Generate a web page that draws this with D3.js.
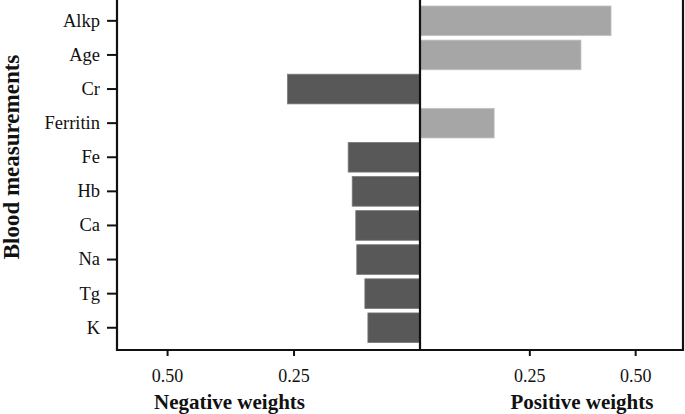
<!DOCTYPE html>
<html>
<head>
<meta charset="utf-8">
<script src="https://cdn.jsdelivr.net/npm/d3@7/dist/d3.min.js"></script>
<style>
  html, body { margin: 0; padding: 0; background: #fff; }
  svg { display: block; }
  text { font-family: "Liberation Serif", "Times New Roman", serif; fill: #111; }
</style>
</head>
<body>
<svg id="chart" width="685" height="414"></svg>
<script>
// Blood measurements and their weights (negative weights shown as magnitudes on the left)
const categories = ["Alkp", "Age", "Cr", "Ferritin", "Fe", "Hb", "Ca", "Na", "Tg", "K"];
const weights = [0.443, 0.372, -0.262, 0.167, -0.142, -0.134, -0.127, -0.125, -0.109, -0.103];
const tickValues = [0.25, 0.50];
const negTitle = "Negative weights";
const posTitle = "Positive weights";
const yTitle = "Blood measurements";

const svg = d3.select("#chart");
const plotLeft = 117, plotRight = 683, plotBottom = 350, plotTop = -1.4;

const data = categories.map((c, i) => ({ c, v: weights[i] }));

const y = d3.scaleBand().domain(categories).range([plotTop, plotBottom])
  .paddingInner(0.13).paddingOuter(0.217);

const xNeg = d3.scaleLinear().domain([0, 0.6]).range([420, plotLeft - 0.5]);
const xPos = d3.scaleLinear().domain([0, 0.613]).range([423.5, plotRight]);
const cx = xNeg(0);

// bars
svg.append("g").selectAll("rect").data(data).join("rect")
  .attr("x", d => d.v < 0 ? xNeg(-d.v) : cx)
  .attr("width", d => d.v < 0 ? cx - xNeg(-d.v) : xPos(d.v) - cx)
  .attr("y", d => y(d.c))
  .attr("height", y.bandwidth())
  .attr("fill", d => d.v < 0 ? "#585858" : "#a6a6a6")
  .attr("stroke", d => d.v < 0 ? "#7a7a7a" : "#c4c4c4")
  .attr("stroke-width", 0.8);

// frame lines
const lineStyle = sel => sel.attr("stroke", "#111").attr("stroke-width", 2.2);
svg.append("line").attr("x1", plotLeft).attr("x2", plotLeft).attr("y1", -2).attr("y2", plotBottom + 1).call(lineStyle);
svg.append("line").attr("x1", plotRight).attr("x2", plotRight).attr("y1", -2).attr("y2", plotBottom + 1).call(lineStyle);
svg.append("line").attr("x1", cx).attr("x2", cx).attr("y1", -2).attr("y2", plotBottom + 1).call(lineStyle);
svg.append("line").attr("x1", plotLeft - 1).attr("x2", plotRight + 1).attr("y1", plotBottom).attr("y2", plotBottom).call(lineStyle);

// y axis
const yAxis = svg.append("g").attr("transform", `translate(${plotLeft},0)`)
  .call(d3.axisLeft(y).tickSize(10).tickPadding(7));
yAxis.select(".domain").remove();
yAxis.selectAll(".tick line").attr("stroke", "#111").attr("stroke-width", 2);
yAxis.selectAll(".tick text").attr("font-size", 18.5).attr("font-family", "Liberation Serif").attr("fill", "#111");

// x axes
function styleX(g) {
  g.select(".domain").remove();
  g.selectAll(".tick line").attr("stroke", "#111").attr("stroke-width", 2);
  g.selectAll(".tick text").attr("font-size", 18).attr("font-family", "Liberation Serif").attr("fill", "#222");
}
svg.append("g").attr("transform", `translate(0,${plotBottom})`)
  .call(d3.axisBottom(xNeg).tickValues(tickValues).tickFormat(d3.format(".2f")).tickSize(6).tickPadding(13))
  .call(styleX);
svg.append("g").attr("transform", `translate(0,${plotBottom})`)
  .call(d3.axisBottom(xPos).tickValues(tickValues).tickFormat(d3.format(".2f")).tickSize(6).tickPadding(13))
  .call(styleX);

// titles
svg.append("text").attr("x", 229.5).attr("y", 408.5).attr("text-anchor", "middle")
  .attr("font-weight", "bold").attr("font-size", 21).text(negTitle);
svg.append("text").attr("x", 582).attr("y", 408.5).attr("text-anchor", "middle")
  .attr("font-weight", "bold").attr("font-size", 21).text(posTitle);
svg.append("text").attr("transform", "translate(19,157) rotate(-90)").attr("text-anchor", "middle")
  .attr("font-weight", "bold").attr("font-size", 23).text(yTitle);
</script>
</body>
</html>
